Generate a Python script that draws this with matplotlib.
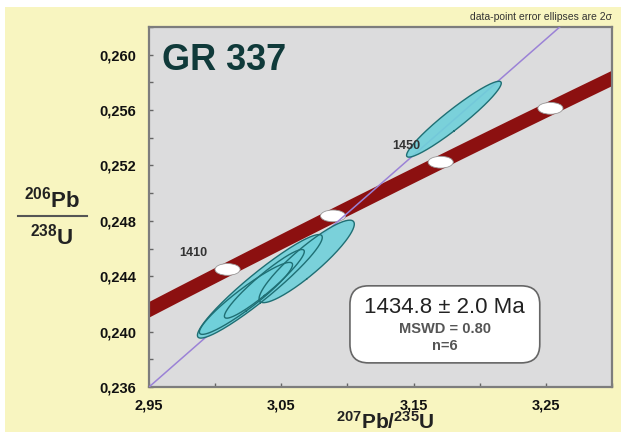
import numpy as np
import matplotlib
matplotlib.use("Agg")
import matplotlib.pyplot as plt
from matplotlib.patches import Ellipse, FancyBboxPatch, Rectangle
from matplotlib.lines import Line2D

plt.rcParams['font.family'] = ['Liberation Sans', 'DejaVu Sans']
plt.rcParams['mathtext.fontset'] = 'custom'
plt.rcParams['mathtext.rm'] = 'Liberation Sans'
plt.rcParams['mathtext.bf'] = 'Liberation Sans:bold'

# decay constants (1/yr)
LAMBDA_238 = 1.55125e-10
LAMBDA_235 = 9.8485e-10

# analyses: 207Pb/235U, 1s, 206Pb/238U, 1s, error correlation
pb207_u235 = [3.1805, 3.0338, 3.0233, 3.0692, 3.0372]
sig_207 = [0.0179, 0.0236, 0.0176, 0.0180, 0.0151]
pb206_u238 = [0.25534, 0.24327, 0.24240, 0.24507, 0.24345]
sig_206 = [0.00137, 0.00187, 0.00130, 0.00149, 0.00124]
rho = [0.950, 0.945, 0.935, 0.905, 0.940]

# reference line through the data
ref_x = [2.95, 3.2605]
ref_y = [0.236, 0.262]

# concordia age range and labelled markers (Ma)
concordia_ages = [1390, 1490]
marker_ages = [1410, 1430, 1450, 1470]
labelled_ages = [1410, 1450]

xticks = [2.95, 3.05, 3.15, 3.25]
xtick_labels = ['2,95', '3,05', '3,15', '3,25']
yticks = [0.236, 0.240, 0.244, 0.248, 0.252, 0.256, 0.260]
ytick_labels = ['0,236', '0,240', '0,244', '0,248', '0,252', '0,256', '0,260']


def concordia(t_ma):
    t = np.asarray(t_ma) * 1e6
    return np.exp(LAMBDA_235 * t) - 1, np.exp(LAMBDA_238 * t) - 1


def error_ellipse(x, sx, y, sy, r, k=2.0, n=200):
    cov = np.array([[sx**2, r * sx * sy], [r * sx * sy, sy**2]])
    vals, vecs = np.linalg.eigh(cov)
    t = np.linspace(0, 2 * np.pi, n)
    circ = np.vstack([np.cos(t), np.sin(t)]) * k * np.sqrt(vals)[:, None]
    pts = vecs @ circ
    return x + pts[0], y + pts[1]


fig = plt.figure(figsize=(6.21, 4.32), dpi=100, facecolor='white')
fig.add_artist(Rectangle((5 / 621, 0), 1 - 5 / 621, 1 - 7 / 432,
                         transform=fig.transFigure, facecolor='#f8f5c0',
                         edgecolor='none', zorder=-10))

ax = fig.add_axes([149 / 621, 45 / 432, 463 / 621, 360 / 432])
ax.set_facecolor('#dcdcdd')
ax.set_xlim(2.95, 3.30)
ax.set_ylim(0.236, 0.262)

# concordia band
tt = np.linspace(concordia_ages[0], concordia_ages[1], 200)
cx, cy = concordia(tt)
ax.plot(cx, cy, color='#8c1010', lw=10, solid_capstyle='butt', zorder=2)

# age markers
mx, my = concordia(marker_ages)
for x, y in zip(mx, my):
    ax.add_patch(Ellipse((x, y), 0.019, 0.00085, facecolor='white',
                         edgecolor='#999999', lw=0.6, zorder=3))
for age in labelled_ages:
    lx, ly = concordia(age)
    ax.annotate(str(age), (lx, ly), xytext=(-25, 12), textcoords='offset points',
                ha='center', va='center', fontsize=9, fontweight='bold',
                color='#333333', zorder=6)

# reference line
ax.plot(ref_x, ref_y, color='#9b82d6', lw=1.1, zorder=4)

# error ellipses: fills first, outlines on top
shapes = [error_ellipse(*p) for p in zip(pb207_u235, sig_207, pb206_u238, sig_206, rho)]
for ex, ey in shapes:
    ax.fill(ex, ey, color='#6fd0da', alpha=0.9, lw=0, zorder=5)
for ex, ey in shapes:
    ax.plot(ex, ey, color='#1f6f74', lw=1.0, zorder=5)

ax.set_xticks(xticks)
ax.set_xticklabels(xtick_labels, fontsize=10.5, fontweight='bold', color='#111111')
ax.set_yticks(yticks)
ax.set_yticklabels(ytick_labels, fontsize=10.5, fontweight='bold', color='#111111')
ax.set_xticks([3.00, 3.10, 3.20, 3.30], minor=True)
ax.set_yticks(np.arange(0.238, 0.2621, 0.004), minor=True)
ax.tick_params(which='both', direction='in', length=3, width=1, color='#666666')
ax.tick_params(axis='x', pad=8)
ax.tick_params(axis='y', pad=9)
for s in ax.spines.values():
    s.set_color('#7d7d7d')
    s.set_linewidth(1.6)

ax.text(0.028, 0.906, 'GR 337', transform=ax.transAxes, fontsize=26,
        fontweight='bold', color='#103a3a', ha='left', va='center', zorder=7)

# result box
ax.add_patch(FancyBboxPatch((0.434, 0.067), 0.41, 0.214, transform=ax.transAxes,
                            boxstyle='round,pad=0,rounding_size=0.04',
                            mutation_aspect=463 / 360,
                            facecolor='white', edgecolor='#666666', lw=1.2, zorder=8))
ax.text(0.639, 0.222, '1434.8 ± 2.0 Ma', transform=ax.transAxes, fontsize=16,
        ha='center', va='center', color='#222222', zorder=9)
ax.text(0.639, 0.162, 'MSWD = 0.80', transform=ax.transAxes, fontsize=10.5,
        fontweight='bold', ha='center', va='center', color='#555555', zorder=9)
ax.text(0.639, 0.115, 'n=6', transform=ax.transAxes, fontsize=10.5,
        fontweight='bold', ha='center', va='center', color='#555555', zorder=9)

fig.text(612 / 621, 1 - 17 / 432, 'data-point error ellipses are 2σ', fontsize=7.5,
         ha='right', va='center', color='#333333')

# axis titles
fig.text(0.62, 0.024, r'$\mathbf{{}^{207}Pb/{}^{235}U}$', fontsize=15,
         ha='center', va='center', color='#222222')
fig.text(0.084, 0.539, r'$\mathbf{{}^{206}Pb}$', fontsize=16,
         ha='center', va='center', color='#222222')
fig.text(0.084, 0.452, r'$\mathbf{{}^{238}U}$', fontsize=16,
         ha='center', va='center', color='#222222')
fig.add_artist(Line2D([0.029, 0.14], [0.5, 0.5], transform=fig.transFigure,
                      color='#555555', lw=1.5))

fig.savefig('out.png', dpi=100, facecolor=fig.get_facecolor())
